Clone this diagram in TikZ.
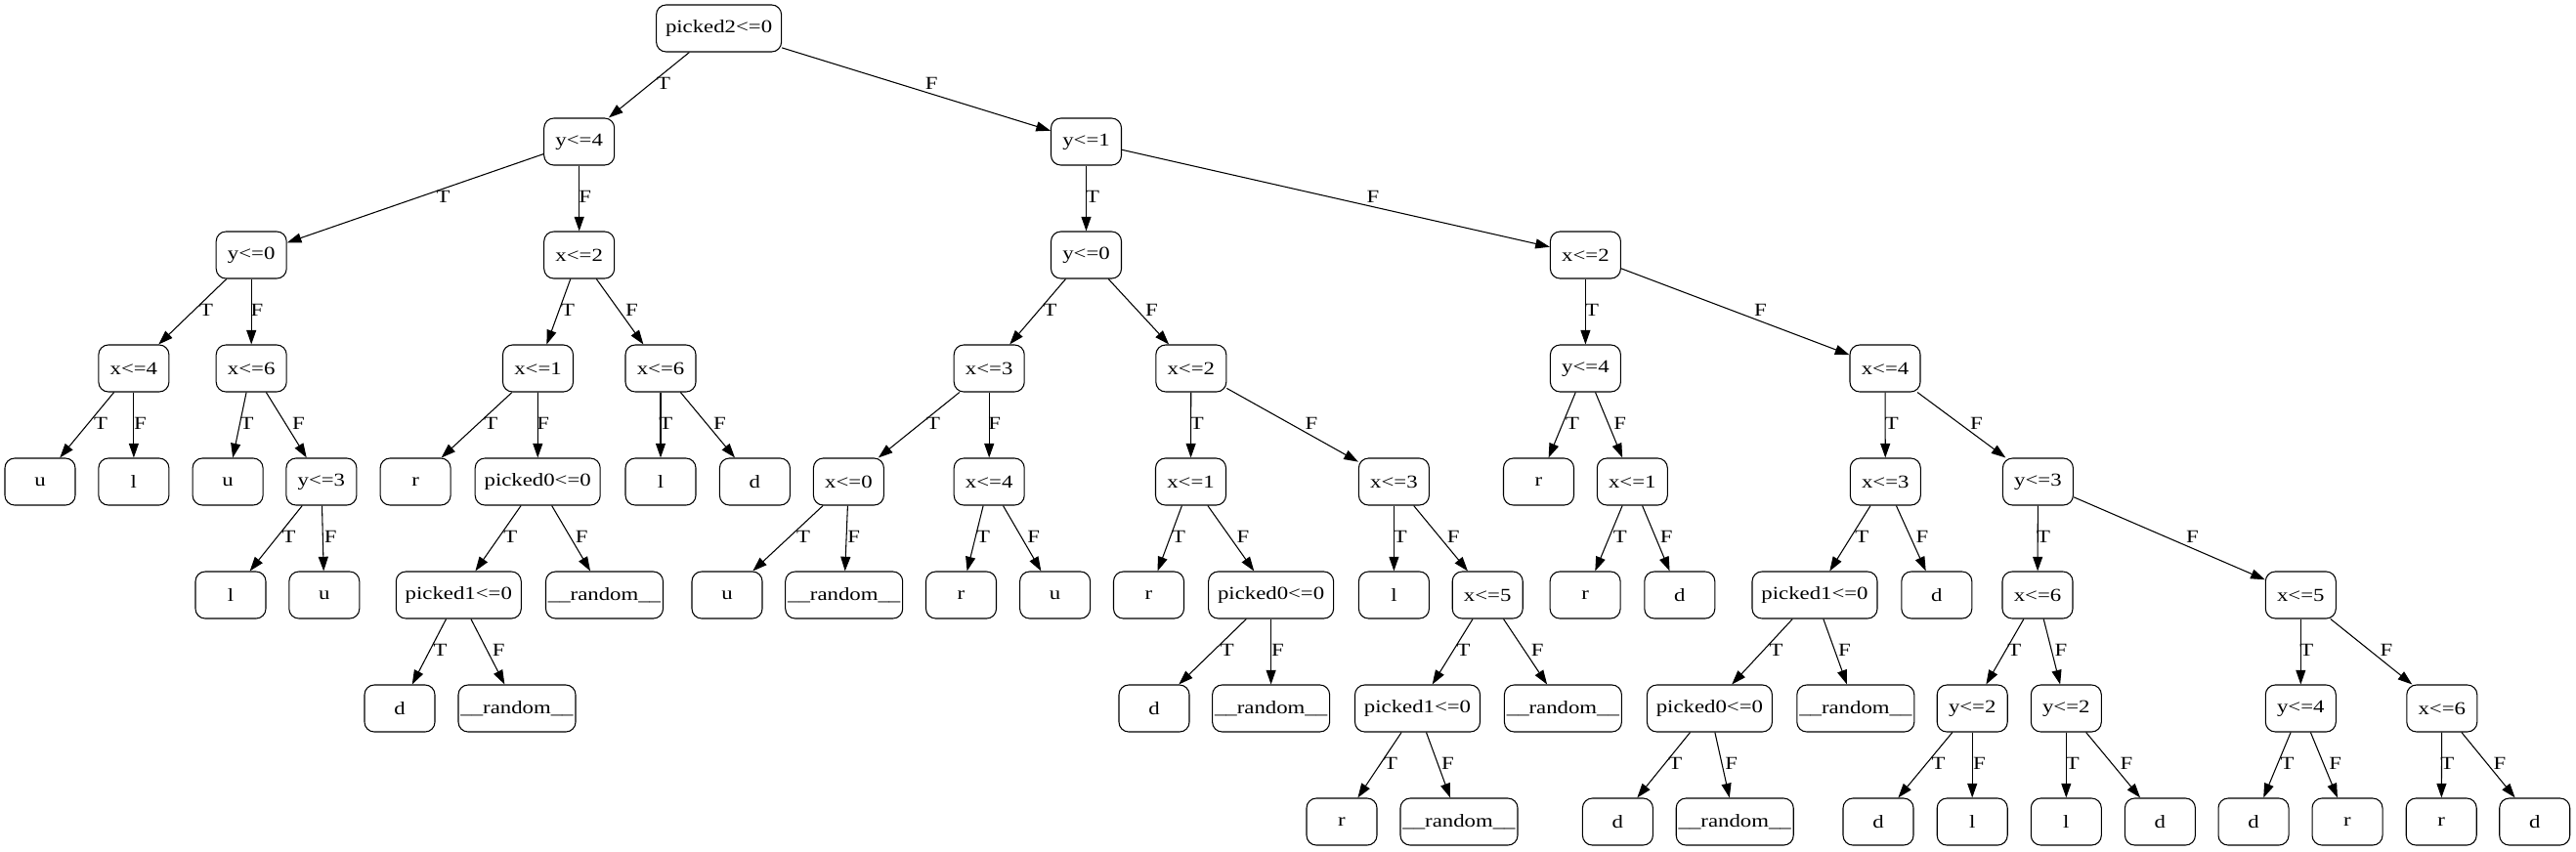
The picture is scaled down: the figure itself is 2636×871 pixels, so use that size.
\documentclass[tikz,border=0pt]{standalone}
\usepackage{fontspec}
\setmainfont[FakeStretch=1.22]{Liberation Serif}
\usetikzlibrary{arrows.meta}
\newcommand\fs{\fontsize{14pt}{16pt}\selectfont}
\newcommand\tredge[4]{\draw[edge] (#1) -- (#2) node[lbl,at={(#3)}] {#4};}
\begin{document}
\begin{tikzpicture}[x=0.75pt,y=-0.75pt,
  nd/.style={draw, rounded corners=7.5pt, minimum width=54pt, minimum height=36pt, inner sep=0pt, font=\fs, line width=0.8pt},
  wide/.style={nd, minimum width=96pt},
  rnd/.style={nd, minimum width=90pt},
  edge/.style={line width=0.8pt, -{Triangle[length=11pt,width=7.5pt]}},
  lbl/.style={inner sep=0pt, font=\fs}]
\useasboundingbox (0,0) rectangle (2636,871);
% row 0
\node[wide] (n0) at (735.6,29) {picked2<=0};
% row 1
\node[nd] (a) at (592.7,145) {y<=4};
\node[nd] (b) at (1111.5,145) {y<=1};
% row 2
\node[nd] (c) at (257.2,261) {y<=0};
\node[nd] (d) at (592.7,261) {x<=2};
\node[nd] (e) at (1111.5,261) {y<=0};
\node[nd] (g) at (1622.4,261) {x<=2};
% row 3
\node[nd] (c1) at (136.9,377) {x<=4};
\node[nd] (c2) at (257.2,377) {x<=6};
\node[nd] (d1) at (550.5,377) {x<=1};
\node[nd] (d2) at (676,377) {x<=6};
\node[nd] (e1) at (1012.2,377) {x<=3};
\node[nd] (e2) at (1218.8,377) {x<=2};
\node[nd] (g1) at (1622.4,377) {y<=4};
\node[nd] (g2) at (1929,377) {x<=4};
% row 4
\node[nd] (c1t) at (41,493) {u};
\node[nd] (c1f) at (136.9,493) {l};
\node[nd] (c2t) at (233.1,493) {u};
\node[nd] (c2f) at (328.9,493) {y<=3};
\node[nd] (d1t) at (425.1,493) {r};
\node[wide] (d1f) at (550.2,493) {picked0<=0};
\node[nd] (d2t) at (676,493) {l};
\node[nd] (d2f) at (772.4,493) {d};
\node[nd] (e1t) at (868.4,493) {x<=0};
\node[nd] (e1f) at (1012.2,493) {x<=4};
\node[nd] (e2t) at (1218.5,493) {x<=1};
\node[nd] (e2f) at (1426.4,493) {x<=3};
\node[nd] (g1t) at (1574.5,493) {r};
\node[nd] (g1f) at (1670.3,493) {x<=1};
\node[nd] (g2t) at (1929.3,493) {x<=3};
\node[nd] (g2f) at (2085.4,493) {y<=3};
% row 5
\node[nd] (c2ft) at (236,609) {l};
\node[nd] (c2ff) at (331.8,609) {u};
\node[wide] (d1ft) at (469.3,609) {picked1<=0};
\node[rnd] (d1ff) at (618.5,609) {\_\_random\_\_};
\node[nd] (e1tt) at (744,609) {u};
\node[rnd] (e1tf) at (863.7,609) {\_\_random\_\_};
\node[nd] (e1ft) at (983.5,609) {r};
\node[nd] (e1ff) at (1079.6,609) {u};
\node[nd] (e2tt) at (1175.5,609) {r};
\node[wide] (e2tf) at (1300.6,609) {picked0<=0};
\node[nd] (e2ft) at (1426.4,609) {l};
\node[nd] (e2ff) at (1522.2,609) {x<=5};
\node[nd] (g1ft) at (1622.1,609) {r};
\node[nd] (g1ff) at (1718.8,609) {d};
\node[wide] (g2tt) at (1857,609) {picked1<=0};
\node[nd] (g2tf) at (1981.8,609) {d};
\node[nd] (g2ft) at (2085,609) {x<=6};
\node[nd] (g2ff) at (2354.3,609) {x<=5};
% row 6
\node[nd] (d1ftt) at (409,725) {d};
\node[rnd] (d1ftf) at (529,725) {\_\_random\_\_};
\node[nd] (e2tft) at (1181,725) {d};
\node[rnd] (e2tff) at (1300.6,725) {\_\_random\_\_};
\node[wide] (e2fft) at (1450.5,725) {picked1<=0};
\node[rnd] (e2fff) at (1599.4,725) {\_\_random\_\_};
\node[wide] (g2ttt) at (1749.4,725) {picked0<=0};
\node[rnd] (g2ttf) at (1898.8,725) {\_\_random\_\_};
\node[nd] (g2ftt) at (2018.2,725) {y<=2};
\node[nd] (g2ftf) at (2114.3,725) {y<=2};
\node[nd] (g2fft) at (2354.3,725) {y<=4};
\node[nd] (g2fff) at (2498.8,725) {x<=6};
% row 7
\node[nd] (e2fftt) at (1373,841) {r};
\node[rnd] (e2fftf) at (1493,841) {\_\_random\_\_};
\node[nd] (g2tttt) at (1655.4,841) {d};
\node[rnd] (g2tttf) at (1775.2,841) {\_\_random\_\_};
\node[nd] (g2fttt) at (1922,841) {d};
\node[nd] (g2fttf) at (2018.2,841) {l};
\node[nd] (g2ftft) at (2114.3,841) {l};
\node[nd] (g2ftff) at (2210.4,841) {d};
\node[nd] (g2fftt) at (2306,841) {d};
\node[nd] (g2fftf) at (2402,841) {r};
\node[nd] (g2ffft) at (2498.2,841) {r};
\node[nd] (g2ffff) at (2593.7,841) {d};
% edges level 0-1
\tredge{n0}{a}{679,85}{T}
\tredge{n0}{b}{953.3,85}{F}
% level 1-2
\tredge{a}{c}{453.5,201}{T}
\tredge{a}{d}{598.7,201}{F}
\tredge{b}{e}{1118,201}{T}
\tredge{b}{g}{1405,201}{F}
% level 2-3
\tredge{c}{c1}{211,317}{T}
\tredge{c}{c2}{263,317}{F}
\tredge{d}{d1}{581,317}{T}
\tredge{d}{d2}{646.4,317}{F}
\tredge{e}{e1}{1074.5,317}{T}
\tredge{e}{e2}{1178.4,317}{F}
\tredge{g}{g1}{1629,317}{T}
\tredge{g}{g2}{1801.5,317}{F}
% level 3-4
\tredge{c1}{c1t}{103,433}{T}
\tredge{c1}{c1f}{143.5,433}{F}
\tredge{c2}{c2t}{252.6,433}{T}
\tredge{c2}{c2f}{305.4,433}{F}
\tredge{d1}{d1t}{502.3,433}{T}
\tredge{d1}{d1f}{555.7,433}{F}
\tredge{d2}{d2t}{681.4,433}{T}
\tredge{d2}{d2f}{736.5,433}{F}
\tredge{e1}{e1t}{955,433}{T}
\tredge{e1}{e1f}{1017.6,433}{F}
\tredge{e2}{e2t}{1224.9,433}{T}
\tredge{e2}{e2f}{1342,433}{F}
\tredge{g1}{g1t}{1609,433}{T}
\tredge{g1}{g1f}{1657.7,433}{F}
\tredge{g2}{g2t}{1935.8,433}{T}
\tredge{g2}{g2f}{2022.4,433}{F}
% level 4-5
\tredge{c2f}{c2ft}{295.6,549}{T}
\tredge{c2f}{c2ff}{338.1,549}{F}
\tredge{d1f}{d1ft}{522.4,549}{T}
\tredge{d1f}{d1ff}{595.3,549}{F}
\tredge{e1t}{e1tt}{822,549}{T}
\tredge{e1t}{e1tf}{873.7,549}{F}
\tredge{e1f}{e1ft}{1006,549}{T}
\tredge{e1f}{e1ff}{1057.8,549}{F}
\tredge{e2t}{e2tt}{1206,549}{T}
\tredge{e2t}{e2tf}{1272,549}{F}
\tredge{e2f}{e2ft}{1432.7,549}{T}
\tredge{e2f}{e2ff}{1487.2,549}{F}
\tredge{g1f}{g1ft}{1657.7,549}{T}
\tredge{g1f}{g1ff}{1705.3,549}{F}
\tredge{g2t}{g2tt}{1905.4,549}{T}
\tredge{g2t}{g2tf}{1966.9,549}{F}
\tredge{g2f}{g2ft}{2091,549}{T}
\tredge{g2f}{g2ff}{2243.3,549}{F}
% level 5-6
\tredge{d1ft}{d1ftt}{450.6,665}{T}
\tredge{d1ft}{d1ftf}{510.3,665}{F}
\tredge{e2tf}{e2tft}{1255.9,665}{T}
\tredge{e2tf}{e2tff}{1307.5,665}{F}
\tredge{e2ff}{e2fft}{1497.5,665}{T}
\tredge{e2ff}{e2fff}{1573.3,665}{F}
\tredge{g2tt}{g2ttt}{1817.6,665}{T}
\tredge{g2tt}{g2ttf}{1887.5,665}{F}
\tredge{g2ft}{g2ftt}{2061.2,665}{T}
\tredge{g2ft}{g2ftf}{2109,665}{F}
\tredge{g2ff}{g2fft}{2360.3,665}{T}
\tredge{g2ff}{g2fff}{2442,665}{F}
% level 6-7
\tredge{e2fft}{e2fftt}{1423,781}{T}
\tredge{e2fft}{e2fftf}{1481.5,781}{F}
\tredge{g2ttt}{g2tttt}{1714.4,781}{T}
\tredge{g2ttt}{g2tttf}{1771.6,781}{F}
\tredge{g2ftt}{g2fttt}{1983.6,781}{T}
\tredge{g2ftt}{g2fttf}{2025.4,781}{F}
\tredge{g2ftf}{g2ftft}{2120.9,781}{T}
\tredge{g2ftf}{g2ftff}{2175.8,781}{F}
\tredge{g2fft}{g2fftt}{2340.6,781}{T}
\tredge{g2fft}{g2fftf}{2389.6,781}{F}
\tredge{g2fff}{g2ffft}{2504.2,781}{T}
\tredge{g2fff}{g2ffff}{2557.9,781}{F}
\end{tikzpicture}
\end{document}
